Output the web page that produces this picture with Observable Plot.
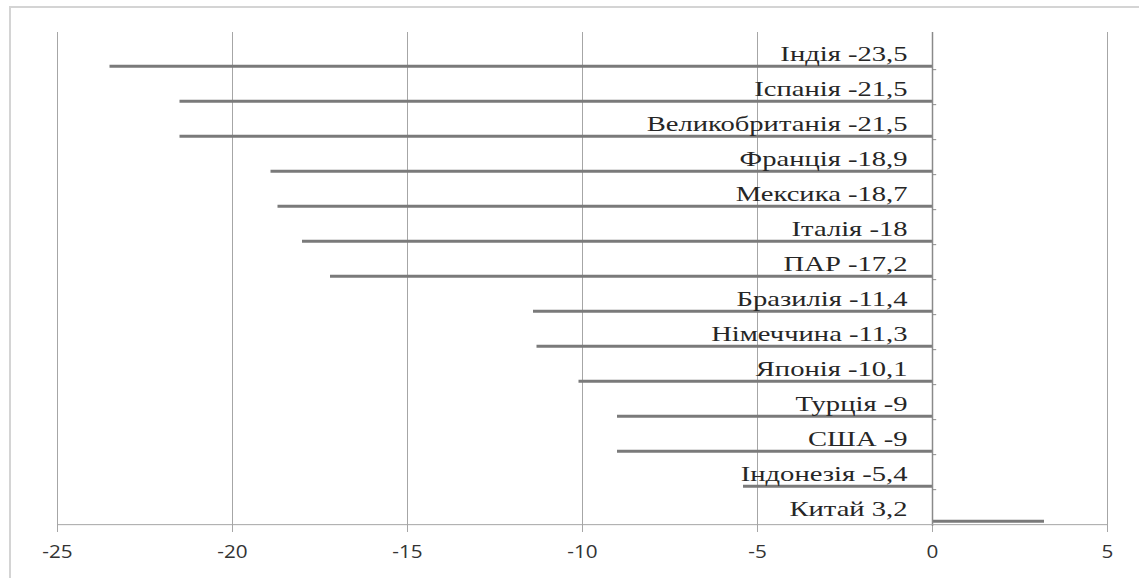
<!DOCTYPE html>
<html>
<head>
<meta charset="utf-8">
<script src="https://cdn.jsdelivr.net/npm/d3@7"></script>
<script src="https://cdn.jsdelivr.net/npm/@observablehq/plot@0.6"></script>
<style>
  html, body { margin: 0; padding: 0; background: #fff; overflow: hidden; }
  #wrap { position: relative; width: 1139px; height: 578px; }
  #border { position: absolute; left: 9px; top: 6px; width: 1140px; height: 600px;
            border: 2px solid #d4d4d4; box-sizing: border-box; pointer-events: none; }
  .lbl text { font-family: "Liberation Serif", "Times New Roman", serif; }
</style>
</head>
<body>
<div id="wrap"><div id="border"></div></div>
<script>
const countries = ["Індія", "Іспанія", "Великобританія", "Франція", "Мексика", "Італія", "ПАР",
  "Бразилія", "Німеччина", "Японія", "Турція", "США", "Індонезія", "Китай"];
const values = [-23.5, -21.5, -21.5, -18.9, -18.7, -18, -17.2, -11.4, -11.3, -10.1, -9, -9, -5.4, 3.2];
const xTicks = [-25, -20, -15, -10, -5, 0, 5];

const data = countries.map((c, i) => ({
  country: c,
  value: values[i],
  label: c + " " + String(values[i]).replace(".", ",")
}));

const H = 578, MT = 32, MB = 52;
const bw = (H - MT - MB) / countries.length;

const chart = Plot.plot({
  width: 1139,
  height: H,
  marginLeft: 57,
  marginRight: 32,
  marginTop: MT,
  marginBottom: MB,
  x: { domain: [-25, 5] },
  y: { type: "band", domain: countries, padding: 0, axis: null },
  marks: [
    Plot.gridX(xTicks, { stroke: "#a6a6a6", strokeOpacity: 1, strokeWidth: 1 }),
    Plot.ruleY(data, { y: "country", x1: 0, x2: "value", dy: bw / 2 - 3.5, stroke: "#7a7a7a", strokeWidth: 3 }),
    Plot.ruleX([0], { stroke: "#8a8a8a", strokeWidth: 1.5 }),
    Plot.ruleY(countries.slice(0, -1), { x1: 0, x2: 0.12, dy: bw / 2, stroke: "#8a8a8a", strokeWidth: 1 }),
    Plot.text(data, { x: 0, y: "country", text: "label", textAnchor: "end", dx: -25, dy: 2,
      className: "lbl", fontFamily: "Liberation Serif", fontSize: 22, fill: "#262626" }),
    Plot.ruleY([countries[countries.length - 1]], { dy: bw / 2, stroke: "#a6a6a6" }),
    Plot.axisX({ ticks: xTicks, tickSize: 6, tickPadding: 13, stroke: "#a6a6a6",
      fontFamily: "Open Sans, sans-serif", fontSize: 18, fill: "#333", label: null,
      tickFormat: d => String(d) })
  ],
  style: { background: "transparent", overflow: "visible" }
});

// horizontal stretch of the text glyphs, as in the reference image
function stretch(sel, k) {
  chart.querySelectorAll(sel).forEach(t => {
    const tr = t.getAttribute("transform");
    if (tr) t.setAttribute("transform", tr + ` scale(${k},1)`);
  });
}
stretch(".lbl text", 1.3);
stretch('g[aria-label="x-axis tick label"] text', 1.15);

document.getElementById("wrap").prepend(chart);
</script>
</body>
</html>
